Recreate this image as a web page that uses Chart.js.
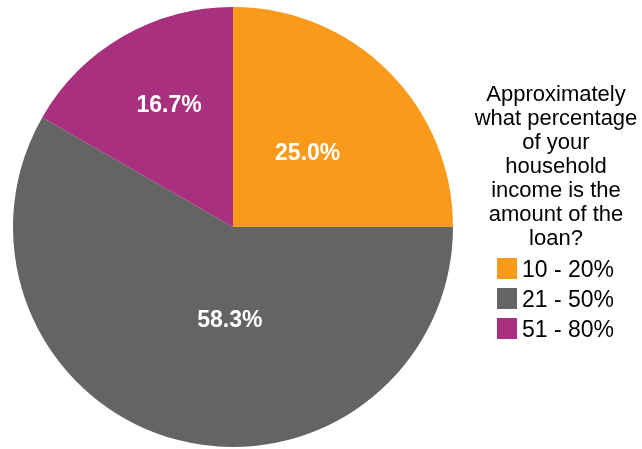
<!DOCTYPE html>
<html>
<head>
<meta charset="utf-8">
<title>Loan as share of household income</title>
<script src="https://cdn.jsdelivr.net/npm/chart.js@4"></script>
<style>
  body { margin: 0; background: #fff; }
  #wrap { width: 642px; height: 449px; }
</style>
</head>
<body>
<div id="wrap"><canvas id="pieChart" width="642" height="449"></canvas></div>
<script>
// survey answers
var bands = ['10 - 20%', '21 - 50%', '51 - 80%'];
var shares = [25.0, 58.3, 16.7];
var sliceColors = ['#FA9A1A', '#646464', '#A8307F'];
var questionLines = ['Approximately', 'what percentage', 'of your', 'household', 'income is the', 'amount of the', 'loan?'];

// where each percentage sits inside its slice (share of radius, turn in degrees)
var labelRadius = [0.48, 0.42, 0.63];
var labelTurn = [0, -13, 2.6];

var fontName = '"Liberation Sans", Arial, sans-serif';

// percentage text on the slices
var sliceLabels = {
  id: 'sliceLabels',
  afterDatasetsDraw: function(chart) {
    var ctx = chart.ctx;
    var meta = chart.getDatasetMeta(0);
    ctx.save();
    ctx.font = 'bold 23px ' + fontName;
    ctx.fillStyle = '#fff';
    ctx.textAlign = 'center';
    ctx.textBaseline = 'alphabetic';
    meta.data.forEach(function(arc, i) {
      var mid = (arc.startAngle + arc.endAngle) / 2 + labelTurn[i] * Math.PI / 180;
      var r = arc.outerRadius * labelRadius[i];
      var x = arc.x + Math.cos(mid) * r;
      var y = arc.y + Math.sin(mid) * r;
      ctx.fillText(shares[i].toFixed(1) + '%', x, y + 8);
    });
    ctx.restore();
  }
};

// question text and colour keys on the right
var sideLegend = {
  id: 'sideLegend',
  afterDraw: function(chart) {
    var ctx = chart.ctx;
    ctx.save();
    ctx.font = '22px ' + fontName;
    ctx.fillStyle = '#000';
    ctx.textAlign = 'center';
    ctx.textBaseline = 'alphabetic';
    questionLines.forEach(function(line, i) {
      ctx.fillText(line, 556, 101 + i * 24);
    });
    ctx.font = '23px ' + fontName;
    ctx.textAlign = 'left';
    bands.forEach(function(band, i) {
      var cy = 269 + i * 30;
      ctx.fillStyle = sliceColors[i];
      ctx.fillRect(497, cy - 11, 20, 21);
      ctx.fillStyle = '#000';
      ctx.fillText(band, 522, cy + 8);
    });
    ctx.restore();
  }
};

var pieChart = new Chart(document.getElementById('pieChart'), {
  type: 'pie',
  data: {
    labels: bands,
    datasets: [{
      data: shares,
      backgroundColor: sliceColors,
      borderWidth: 0
    }]
  },
  options: {
    responsive: false,
    animation: false,
    layout: {
      padding: { left: 13, top: 7, right: 189, bottom: 2 }
    },
    plugins: {
      legend: { display: false },
      tooltip: { enabled: false }
    }
  },
  plugins: [sliceLabels, sideLegend]
});
</script>
</body>
</html>
